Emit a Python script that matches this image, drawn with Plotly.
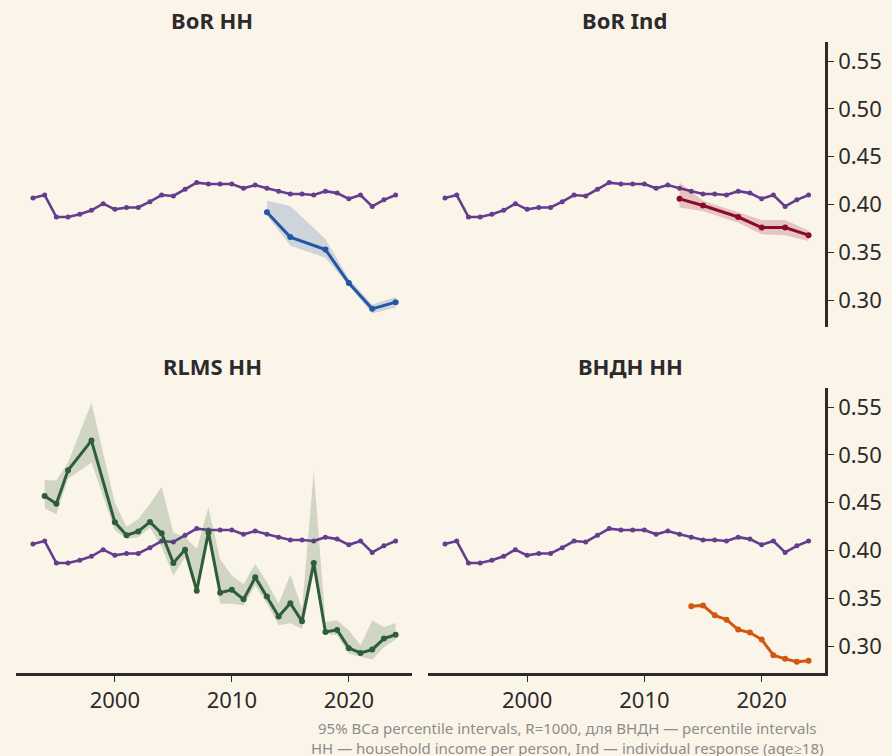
import plotly.graph_objects as go

# ---------------- data ----------------
years_all = list(range(1993, 2025))
gini_ref = [0.407, 0.410, 0.387, 0.387, 0.390, 0.394, 0.401, 0.395, 0.397, 0.397,
            0.403, 0.410, 0.409, 0.416, 0.423, 0.4215, 0.4215, 0.4215, 0.417, 0.4205,
            0.417, 0.414, 0.411, 0.411, 0.410, 0.414, 0.412, 0.406, 0.410, 0.398,
            0.405, 0.410]

bor_years = [2013, 2015, 2018, 2020, 2022, 2024]
bor_hh = [0.392, 0.366, 0.353, 0.318, 0.291, 0.298]
bor_hh_lo = [0.3885, 0.357, 0.3445, 0.3156, 0.286, 0.2924]
bor_hh_hi = [0.404, 0.3986, 0.364, 0.3226, 0.2955, 0.3034]

bor_ind = [0.406, 0.399, 0.387, 0.376, 0.376, 0.368]
bor_ind_lo = [0.397, 0.393, 0.381, 0.369, 0.368, 0.362]
bor_ind_hi = [0.423, 0.404, 0.392, 0.384, 0.384, 0.373]

rlms_years = [1994, 1995, 1996, 1998, 2000, 2001, 2002, 2003, 2004, 2005, 2006, 2007,
              2008, 2009, 2010, 2011, 2012, 2013, 2014, 2015, 2016, 2017, 2018, 2019,
              2020, 2021, 2022, 2023, 2024]
rlms_hh = [0.457, 0.449, 0.484, 0.515, 0.4295, 0.416, 0.420, 0.430, 0.418, 0.387,
           0.401, 0.358, 0.419, 0.356, 0.359, 0.349, 0.372, 0.352, 0.331, 0.345,
           0.326, 0.387, 0.315, 0.317, 0.298, 0.293, 0.2965, 0.308, 0.312]
rlms_lo = [0.444, 0.438, 0.475, 0.492, 0.421, 0.412, 0.414, 0.424, 0.4035, 0.374,
           0.393, 0.355, 0.414, 0.3445, 0.3445, 0.3427, 0.3635, 0.3445, 0.322, 0.324,
           0.318, 0.377, 0.313, 0.3115, 0.292, 0.289, 0.286, 0.299, 0.307]
rlms_hi = [0.4736, 0.4736, 0.492, 0.5545, 0.450, 0.425, 0.433, 0.4486, 0.4667, 0.419,
           0.414, 0.402, 0.4451, 0.391, 0.374, 0.365, 0.386, 0.367, 0.3445, 0.375,
           0.339, 0.483, 0.3254, 0.327, 0.3167, 0.301, 0.327, 0.320, 0.3243]

vndn_years = list(range(2014, 2025))
vndn_hh = [0.3417, 0.3427, 0.3323, 0.3278, 0.3174, 0.3143, 0.307, 0.2906, 0.2868,
           0.2837, 0.2847]

titles = ["BoR HH", "BoR Ind", "RLMS HH", "ВНДН HH"]
x_ticks = [2000, 2010, 2020]
y_ticks = [0.30, 0.35, 0.40, 0.45, 0.50, 0.55]
footnote = ("95% BCa percentile intervals, R=1000, для ВНДН — percentile intervals<br>"
            "HH — household income per person, Ind — individual response (age≥18)")

# ---------------- style ----------------
BG = "#fbf4e8"
PURPLE = "#633e8e"
INK = "#2b2b2b"
FONT = "Noto Sans"
W, H = 892, 756

def px_x(p):
    return p / W

def px_y(p):
    return 1 - p / H

col_dom = [[px_x(16), px_x(412)], [px_x(428), px_x(825)]]
row_dom = [[px_y(327), px_y(42)], [px_y(673), px_y(388)]]
XR = [1991.55, 2025.4]
YR = [0.272, 0.570]

fig = go.Figure()

panels = [("x", "y"), ("x2", "y2"), ("x3", "y3"), ("x4", "y4")]

def add_band(i, xs, lo, hi, fillcolor):
    xa, ya = panels[i]
    fig.add_trace(go.Scatter(x=xs, y=lo, mode="lines", line=dict(width=0),
                             xaxis=xa, yaxis=ya, showlegend=False, hoverinfo="skip"))
    fig.add_trace(go.Scatter(x=xs, y=hi, mode="lines", line=dict(width=0),
                             fill="tonexty", fillcolor=fillcolor,
                             xaxis=xa, yaxis=ya, showlegend=False, hoverinfo="skip"))

def add_line(i, xs, ys, color, width=3, msize=6):
    xa, ya = panels[i]
    fig.add_trace(go.Scatter(x=xs, y=ys, mode="lines+markers",
                             line=dict(color=color, width=width),
                             marker=dict(color=color, size=msize),
                             xaxis=xa, yaxis=ya, showlegend=False))

for i in range(4):
    add_line(i, years_all, gini_ref, PURPLE, width=2.6, msize=5)

add_band(0, bor_years, bor_hh_lo, bor_hh_hi, "rgba(36,86,166,0.2)")
add_line(0, bor_years, bor_hh, "#2456a6", width=3, msize=6)

add_band(1, bor_years, bor_ind_lo, bor_ind_hi, "rgba(140,10,44,0.2)")
add_line(1, bor_years, bor_ind, "#8c0a2c", width=3, msize=6)

add_band(2, rlms_years, rlms_lo, rlms_hi, "rgba(46,94,56,0.2)")
add_line(2, rlms_years, rlms_hh, "#2e5e38", width=3, msize=6)

add_line(3, vndn_years, vndn_hh, "#d2570f", width=3, msize=6)

layout = dict(
    width=W, height=H,
    paper_bgcolor=BG, plot_bgcolor=BG,
    margin=dict(l=0, r=0, t=0, b=0),
    font=dict(family=FONT, color=INK),
    showlegend=False,
)

for i in range(4):
    r, c = divmod(i, 2)
    suffix = "" if i == 0 else str(i + 1)
    bottom = (r == 1)
    right = (c == 1)
    layout["xaxis" + suffix] = dict(
        domain=col_dom[c], range=XR, anchor="y" + suffix,
        showgrid=False, zeroline=False,
        showline=bottom, linecolor=INK, linewidth=2.5,
        ticks="outside" if bottom else "", ticklen=6, tickwidth=1.2, tickcolor=INK,
        tickvals=x_ticks, showticklabels=bottom,
        tickfont=dict(size=22, color=INK, family=FONT),
    )
    layout["yaxis" + suffix] = dict(
        domain=row_dom[r], range=YR, anchor="x" + suffix,
        side="right",
        showgrid=False, zeroline=False,
        showline=right, linecolor=INK, linewidth=2.5,
        ticks="outside" if right else "", ticklen=6, tickwidth=1.2, tickcolor=INK,
        tickvals=y_ticks, tickformat=".2f", showticklabels=right,
        tickfont=dict(size=22, color=INK, family=FONT),
    )

fig.update_layout(**layout)

title_pos = [(212, 20), (624, 20), (212, 366), (630, 366)]
for t, (tx, ty) in zip(titles, title_pos):
    fig.add_annotation(x=px_x(tx), y=px_y(ty), xref="paper", yref="paper",
                       text="<b>" + t + "</b>", showarrow=False,
                       xanchor="center", yanchor="middle",
                       font=dict(size=22, color=INK, family=FONT))

fig.add_annotation(x=px_x(825), y=px_y(738), xref="paper", yref="paper",
                   text=footnote, showarrow=False, align="center",
                   xanchor="right", yanchor="middle",
                   font=dict(size=15, color="#8c8c8c", family=FONT))

fig.write_html(
    "out.html",
    config={"displayModeBar": False},
    post_script="document.body.style.margin='0';document.body.style.background='#fbf4e8';",
)
